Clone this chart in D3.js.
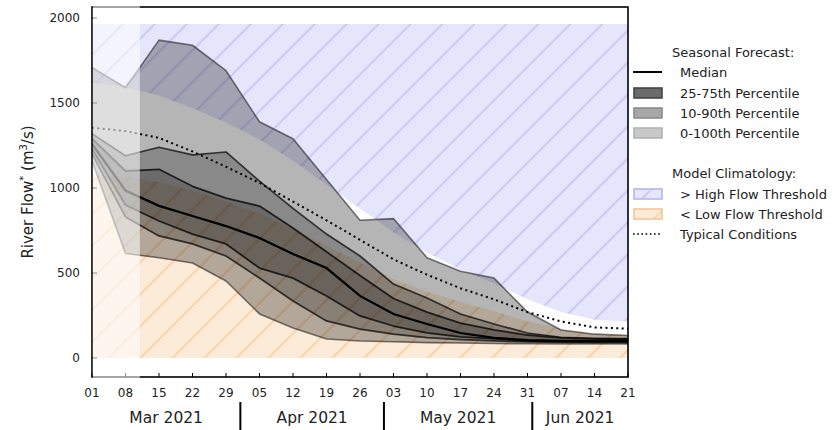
<!DOCTYPE html>
<html>
<head>
<meta charset="utf-8">
<script src="https://cdn.jsdelivr.net/npm/d3@7"></script>
<style>
  body { margin: 0; background: #fff; }
  svg { display: block; font-family: "DejaVu Sans", sans-serif; }
</style>
</head>
<body>
<div id="chart"></div>
<script>
// weekly forecast dates
const dates = ["2021-03-01", "2021-03-08", "2021-03-15", "2021-03-22", "2021-03-29",
               "2021-04-05", "2021-04-12", "2021-04-19", "2021-04-26", "2021-05-03",
               "2021-05-10", "2021-05-17", "2021-05-24", "2021-05-31", "2021-06-07",
               "2021-06-14", "2021-06-21"];

// seasonal forecast percentiles (m3/s)
const p0   = [1160, 615, 590, 559, 453, 259, 176, 112, 100, 95, 90, 88, 85, 84, 82, 82, 82];
const p10  = [1200, 830, 718, 671, 600, 470, 335, 218, 170, 140, 120, 108, 100, 95, 92, 90, 90];
const p25  = [1230, 900, 806, 729, 671, 529, 470, 365, 247, 188, 147, 124, 112, 100, 96, 95, 95];
const p50  = [1260, 985, 895, 835, 776, 706, 612, 529, 365, 259, 200, 147, 118, 105, 100, 100, 100];
const p75  = [1290, 1100, 1110, 1010, 940, 894, 765, 625, 485, 350, 270, 205, 165, 135, 118, 112, 110];
const p90  = [1320, 1190, 1240, 1195, 1212, 1040, 880, 729, 600, 435, 353, 259, 200, 147, 122, 116, 114];
const p100 = [1710, 1590, 1870, 1840, 1690, 1390, 1290, 1050, 810, 820, 590, 510, 470, 270, 165, 140, 132];

// model climatology
const typical  = [1355, 1335, 1295, 1215, 1125, 1030, 920, 810, 695, 580, 490, 410, 345, 270, 215, 180, 172];
const highFlow = [1620, 1595, 1545, 1470, 1385, 1285, 1160, 1020, 880, 740, 620, 520, 440, 345, 270, 225, 215];
const lowFlow  = [1080, 1065, 1035, 985, 920, 850, 760, 660, 560, 465, 390, 330, 275, 215, 172, 145, 138];
const highTop = 1965;

const forecastStart = "2021-03-11";
const yTicks = [0, 500, 1000, 1500, 2000];
const months = ["Mar 2021", "Apr 2021", "May 2021", "Jun 2021"];
const monthStarts = ["2021-03-01", "2021-04-01", "2021-05-01", "2021-06-01", "2021-06-21"];

const legendForecast = ["Median", "25-75th Percentile", "10-90th Percentile", "0-100th Percentile"];
const legendClim = ["> High Flow Threshold", "< Low Flow Threshold", "Typical Conditions"];

const parse = d3.utcParse("%Y-%m-%d");
const rows = dates.map((d, i) => ({
  date: parse(d), p0: p0[i], p10: p10[i], p25: p25[i], p50: p50[i], p75: p75[i],
  p90: p90[i], p100: p100[i], typ: typical[i], hi: highFlow[i], lo: lowFlow[i]
}));

const width = 840, height = 430;
const margin = { top: 7, right: 212, bottom: 53, left: 92 };
const W = width - margin.left - margin.right, H = height - margin.top - margin.bottom;

const x = d3.scaleUtc().domain([parse(dates[0]), parse(dates[dates.length - 1])]).range([0, W]);
const y = d3.scaleLinear().domain([-112, 2065]).range([H, 0]);

const svg = d3.select("#chart").append("svg")
  .attr("width", width).attr("height", height);

const defs = svg.append("defs");
function hatch(id, bg, fg) {
  const s = 22.6;
  const p = defs.append("pattern").attr("id", id)
    .attr("patternUnits", "userSpaceOnUse")
    .attr("width", s).attr("height", s)
    .attr("patternTransform", "rotate(45)");
  p.append("rect").attr("width", s).attr("height", s).attr("fill", bg);
  p.append("line").attr("x1", s / 2).attr("x2", s / 2).attr("y1", 0).attr("y2", s)
    .attr("stroke", fg).attr("stroke-width", 1.6);
}
hatch("hatchBlue", "#e5e5fc", "#c2c2f4");
hatch("hatchOrange", "#fdebd9", "#f7cb9c");

defs.append("clipPath").attr("id", "plotClip")
  .append("rect").attr("width", W).attr("height", H);

const g = svg.append("g").attr("transform", `translate(${margin.left},${margin.top})`);
const plot = g.append("g").attr("clip-path", "url(#plotClip)");

// climatology thresholds
plot.append("path").datum(rows)
  .attr("fill", "url(#hatchBlue)")
  .attr("d", d3.area().x(d => x(d.date)).y0(d => y(d.hi)).y1(() => y(highTop)));

plot.append("path").datum(rows)
  .attr("fill", "url(#hatchOrange)")
  .attr("d", d3.area().x(d => x(d.date)).y0(() => y(0)).y1(d => y(d.lo)));

// forecast bands
const bands = [
  { lo: "p0", hi: "p100", alpha: 0.29, edge: "rgba(0,0,0,0.5)", ew: 1.6 },
  { lo: "p10", hi: "p90", alpha: 0.24, edge: "rgba(0,0,0,0.7)", ew: 1.7 },
  { lo: "p25", hi: "p75", alpha: 0.22, edge: "rgba(0,0,0,0.75)", ew: 1.8 }
];
const line = key => d3.line().x(d => x(d.date)).y(d => y(d[key]));

bands.forEach(b => {
  plot.append("path").datum(rows)
    .attr("fill", "#000").attr("fill-opacity", b.alpha)
    .attr("d", d3.area().x(d => x(d.date)).y0(d => y(d[b.lo])).y1(d => y(d[b.hi])));
  [b.lo, b.hi].forEach(k => {
    plot.append("path").datum(rows)
      .attr("fill", "none").attr("stroke", b.edge).attr("stroke-width", b.ew)
      .attr("stroke-linejoin", "round")
      .attr("d", line(k));
  });
});

plot.append("path").datum(rows)
  .attr("fill", "none").attr("stroke", "#000").attr("stroke-width", 2.2)
  .attr("d", line("p50"));

plot.append("path").datum(rows)
  .attr("fill", "none").attr("stroke", "#000").attr("stroke-width", 2)
  .attr("stroke-dasharray", "2,3.4")
  .attr("d", line("typ"));

// axes
const xTicks = rows.map(d => d.date);
g.selectAll(".xtick").data(xTicks).enter().append("line")
  .attr("x1", d => x(d)).attr("x2", d => x(d))
  .attr("y1", H).attr("y2", H - 4)
  .attr("stroke", "#000").attr("stroke-width", 1);

g.selectAll(".xlab").data(xTicks).enter().append("text")
  .attr("x", d => x(d)).attr("y", H + 20)
  .attr("text-anchor", "middle").attr("font-size", 12).attr("fill", "#222")
  .text(d3.utcFormat("%d"));

g.selectAll(".ytick").data(yTicks).enter().append("line")
  .attr("x1", 0).attr("x2", 5)
  .attr("y1", d => y(d)).attr("y2", d => y(d))
  .attr("stroke", "#000").attr("stroke-width", 1);

g.selectAll(".ylab").data(yTicks).enter().append("text")
  .attr("x", -12).attr("y", d => y(d)).attr("dy", "0.35em")
  .attr("text-anchor", "end").attr("font-size", 12).attr("fill", "#222")
  .text(d => d);

g.append("rect").attr("width", W).attr("height", H)
  .attr("fill", "none").attr("stroke", "#000").attr("stroke-width", 1.6);

// hindcast period is faded out
g.append("rect")
  .attr("x", 0.8).attr("y", -1)
  .attr("width", x(parse(forecastStart)) - 0.8).attr("height", H + 2)
  .attr("fill", "#fff").attr("fill-opacity", 0.56);

// month labels and separators
const mStarts = monthStarts.map(parse);
months.forEach((m, i) => {
  const cx = (x(mStarts[i]) + x(mStarts[i + 1])) / 2;
  g.append("text").attr("x", cx).attr("y", H + 46)
    .attr("text-anchor", "middle").attr("font-size", 15.5).attr("fill", "#222")
    .text(m);
  if (i > 0) {
    g.append("line").attr("x1", x(mStarts[i])).attr("x2", x(mStarts[i]))
      .attr("y1", H + 25).attr("y2", H + 55)
      .attr("stroke", "#000").attr("stroke-width", 2);
  }
});

// y label
const yl = svg.append("text")
  .attr("transform", `translate(33,${margin.top + 185}) rotate(-90)`)
  .attr("text-anchor", "middle").attr("font-size", 15).attr("fill", "#222");
yl.append("tspan").text("River Flow");
yl.append("tspan").attr("font-size", 10).attr("dy", -6).text("*");
yl.append("tspan").attr("dy", 6).text(" (m");
yl.append("tspan").attr("font-size", 10).attr("dy", -6).text("3");
yl.append("tspan").attr("dy", 6).text("/s)");

// legend
const lg = svg.append("g").attr("transform", "translate(633,0)");
lg.append("text").attr("x", 39).attr("y", 57).attr("font-size", 13).attr("fill", "#222")
  .text("Seasonal Forecast:");
const fcRows = [72, 93, 113, 133];
const fcPatch = [null, ["#6b6b6b", "#454545"], ["#a7a7a7", "#8c8c8c"], ["#c9c9c9", "#b3b3b3"]];
legendForecast.forEach((t, i) => {
  const cy = fcRows[i];
  if (i === 0) {
    lg.append("line").attr("x1", 0).attr("x2", 29).attr("y1", cy).attr("y2", cy)
      .attr("stroke", "#000").attr("stroke-width", 2);
  } else {
    lg.append("rect").attr("x", 1).attr("y", cy - 5).attr("width", 28).attr("height", 10)
      .attr("fill", fcPatch[i][0]).attr("stroke", fcPatch[i][1]).attr("stroke-width", 1.6);
  }
  lg.append("text").attr("x", 47).attr("y", cy).attr("dy", "0.35em")
    .attr("font-size", 13).attr("fill", "#222").text(t);
});

lg.append("text").attr("x", 39).attr("y", 178).attr("font-size", 13).attr("fill", "#222")
  .text("Model Climatology:");
const clRows = [194, 214, 234];
legendClim.forEach((t, i) => {
  const cy = clRows[i];
  if (i === 0) {
    lg.append("rect").attr("x", 1).attr("y", cy - 5).attr("width", 28).attr("height", 10)
      .attr("fill", "url(#hatchBlue)").attr("stroke", "#b6b6f2").attr("stroke-width", 1.6);
  } else if (i === 1) {
    lg.append("rect").attr("x", 1).attr("y", cy - 5).attr("width", 28).attr("height", 10)
      .attr("fill", "url(#hatchOrange)").attr("stroke", "#f4c595").attr("stroke-width", 1.6);
  } else {
    lg.append("line").attr("x1", 0).attr("x2", 29).attr("y1", cy).attr("y2", cy)
      .attr("stroke", "#000").attr("stroke-width", 1.6).attr("stroke-dasharray", "1.6,2.6");
  }
  lg.append("text").attr("x", 47).attr("y", cy).attr("dy", "0.35em")
    .attr("font-size", 13).attr("fill", "#222").text(t);
});
</script>
</body>
</html>
